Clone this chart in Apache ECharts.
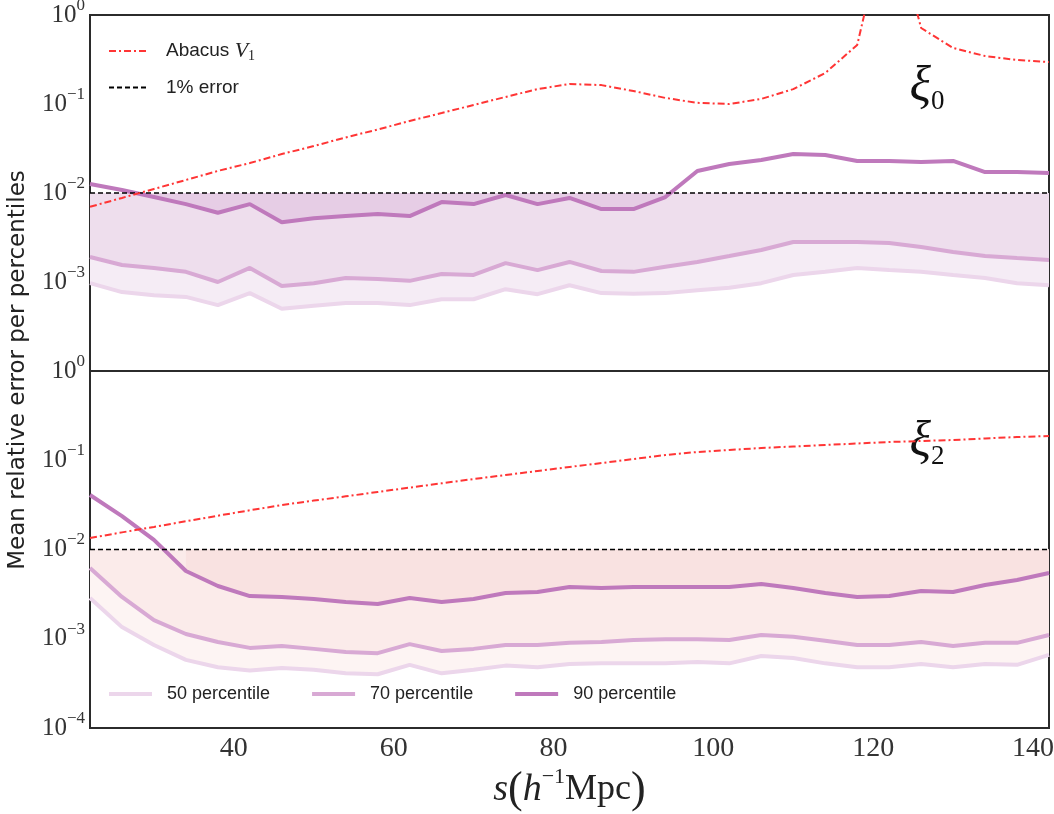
<!DOCTYPE html>
<html>
<head>
<meta charset="utf-8">
<script src="https://cdn.jsdelivr.net/npm/echarts@6/dist/echarts.min.js"></script>
<style>
  html, body { margin: 0; padding: 0; background: #fff; }
  #chart { width: 1054px; height: 814px; }
</style>
</head>
<body>
<div id="chart"></div>
<script>
// Separation bins s (h^-1 Mpc)
const s = [22, 26, 30, 34, 38, 42, 46, 50, 54, 58, 62, 66, 70, 74, 78, 82, 86, 90, 94,
           98, 102, 106, 110, 114, 118, 122, 126, 130, 134, 138, 142];

// Monopole xi_0: mean relative error per percentile
const xi0P50 = [0.00097, 0.00077, 0.00071, 0.00068, 0.00055, 0.00075, 0.00050, 0.00054, 0.00058, 0.00058, 0.00055,
                0.00064, 0.00064, 0.00083, 0.00073, 0.00092, 0.00075, 0.00074, 0.00075, 0.00081, 0.00086, 0.00097,
                0.00120, 0.00130, 0.00144, 0.00136, 0.00130, 0.00120, 0.00111, 0.00097, 0.00092];
const xi0P70 = [0.00191, 0.00155, 0.00144, 0.00130, 0.00100, 0.00144, 0.00090, 0.00097, 0.00111, 0.00108, 0.00103,
                0.00123, 0.00120, 0.00163, 0.00136, 0.00168, 0.00133, 0.00130, 0.00148, 0.00168, 0.00196, 0.00229,
                0.00281, 0.00281, 0.00281, 0.00274, 0.00247, 0.00217, 0.00196, 0.00186, 0.00177];
const xi0P90 = [0.0126, 0.0108, 0.0090, 0.0075, 0.0060, 0.0075, 0.0047, 0.0052, 0.0055, 0.0058, 0.0055,
                0.0079, 0.0075, 0.0095, 0.0075, 0.0088, 0.0066, 0.0066, 0.0090, 0.0177, 0.0212, 0.0235,
                0.0274, 0.0267, 0.0229, 0.0229, 0.0223, 0.0229, 0.0172, 0.0172, 0.0168];
const xi0Abacus = [0.0070, 0.0088, 0.0111, 0.0140, 0.0177, 0.0217, 0.0274, 0.0337, 0.0421, 0.0517, 0.0644,
                   0.0792, 0.0975, 0.120, 0.147, 0.168, 0.163, 0.140, 0.117, 0.103, 0.100, 0.114,
                   0.147, 0.223, 0.460, 16, 0.714, 0.426, 0.346, 0.312, 0.296];

// Quadrupole xi_2: mean relative error per percentile
const xi2P50 = [0.00286, 0.00135, 0.00085, 0.00058, 0.00048, 0.00044, 0.00047, 0.00045, 0.00041, 0.00040, 0.00051,
                0.00041, 0.00045, 0.00050, 0.00048, 0.00052, 0.00053, 0.00053, 0.00053, 0.00055, 0.00053, 0.00064,
                0.00061, 0.00053, 0.00048, 0.00048, 0.00052, 0.00048, 0.00052, 0.00051, 0.00066];
const xi2P70 = [0.00621, 0.00294, 0.00162, 0.00113, 0.00092, 0.00079, 0.00083, 0.00077, 0.00071, 0.00069, 0.00087,
                0.00073, 0.00077, 0.00085, 0.00085, 0.00090, 0.00092, 0.00097, 0.00099, 0.00099, 0.00097, 0.00110,
                0.00105, 0.00095, 0.00085, 0.00085, 0.00092, 0.00083, 0.00090, 0.00090, 0.00110];
const xi2P90 = [0.0408, 0.0237, 0.0128, 0.00574, 0.00390, 0.00301, 0.00294, 0.00279, 0.00258, 0.00245, 0.00286,
                0.00258, 0.00279, 0.00326, 0.00334, 0.00380, 0.00371, 0.00380, 0.00380, 0.00380, 0.00380, 0.00410,
                0.00371, 0.00326, 0.00294, 0.00301, 0.00343, 0.00334, 0.00400, 0.00455, 0.00546];
const xi2Abacus = [0.01345, 0.01555, 0.0179, 0.0207, 0.0239, 0.0275, 0.0315, 0.0353, 0.0394, 0.0441, 0.0494,
                   0.0552, 0.0616, 0.0684, 0.0758, 0.0840, 0.0931, 0.1033, 0.1145, 0.1237, 0.1302, 0.1372,
                   0.1426, 0.1482, 0.1541, 0.1601, 0.1643, 0.1686, 0.1753, 0.1822, 0.1870];

// 1% error reference level
const errorLevel = 0.01;

// Tick labels on the separation axis
const xTicks = [40, 60, 80, 100, 120, 140];

const percentileNames = ['50 percentile', '70 percentile', '90 percentile'];
const abacusName = 'Abacus V1';
const levelName = '1% error';

const lineColors = ['#ecd6eb', '#d8a9d4', '#bf79bc'];
const topFills = ['#f5ecf5', '#eedeed', '#e6cde5'];
const bottomFills = ['#fdf4f3', '#fbebea', '#f9e2e1'];
const redColor = '#ff3535';

const serif = '"Liberation Serif", "DejaVu Serif", serif';
const sans = '"DejaVu Sans", "Liberation Sans", sans-serif';
const legendFont = '"Liberation Sans", Arial, sans-serif';

const pairs = ys => s.map((x, i) => [x, ys[i]]);

// Shaded band between a percentile curve and the 1% level, only where the curve lies below it
function band(g, ys, color) {
  return {
    type: 'custom',
    xAxisIndex: g, yAxisIndex: g,
    silent: true, z: 1,
    data: [[s[0], errorLevel]],
    encode: { x: 0, y: 1 },
    renderItem: function (params, api) {
      const children = [];
      let run = [];
      const flush = function () {
        if (run.length > 1) {
          const upper = run.map(i => api.coord([s[i], ys[i]]));
          const lower = run.slice().reverse().map(i => api.coord([s[i], errorLevel]));
          children.push({ type: 'polygon', shape: { points: upper.concat(lower) }, style: { fill: color } });
        }
        run = [];
      };
      for (let i = 0; i < s.length; i++) {
        if (ys[i] < errorLevel) run.push(i); else flush();
      }
      flush();
      return { type: 'group', children: children };
    }
  };
}

function pctLine(g, k, ys) {
  return {
    type: 'line', name: percentileNames[k], xAxisIndex: g, yAxisIndex: g,
    data: pairs(ys), symbol: 'none', z: 3,
    lineStyle: { width: 4, color: lineColors[k] },
    itemStyle: { color: lineColors[k] }
  };
}

function levelLine(g) {
  return {
    type: 'line', name: levelName, xAxisIndex: g, yAxisIndex: g,
    data: [[s[0], errorLevel], [s[s.length - 1], errorLevel]],
    symbol: 'none', z: 4,
    lineStyle: { width: 1.7, color: '#000', type: [5, 3] },
    itemStyle: { color: '#000' }
  };
}

function abacusLine(g, ys) {
  return {
    type: 'line', name: abacusName, xAxisIndex: g, yAxisIndex: g,
    data: pairs(ys), symbol: 'none', z: 4, clip: true,
    lineStyle: { width: 2, color: redColor, type: [7, 3, 2, 3] },
    itemStyle: { color: redColor }
  };
}

const powRich = {
  b: { fontFamily: serif, fontSize: 25, lineHeight: 36, color: '#333' },
  u: { fontFamily: serif, fontSize: 17, lineHeight: 17, verticalAlign: 'top', color: '#333' }
};
function powLabel(hideBottom) {
  return function (v) {
    const e = Math.round(Math.log10(v));
    if (hideBottom && e === -4) return '';
    return '{b|10}{u|' + (e === 0 ? '0' : '\u2212' + (-e)) + '}';
  };
}

function yAxis(g) {
  return {
    type: 'log', logBase: 10, gridIndex: g, min: 1e-4, max: 1,
    axisLine: { show: false }, axisTick: { show: false },
    splitLine: { show: false }, minorTick: { show: false },
    axisLabel: { formatter: powLabel(g === 0), rich: powRich, margin: 5 }
  };
}

const xiRich = {
  a: { fontFamily: serif, fontStyle: 'italic', fontSize: 50, lineHeight: 54, fill: '#111' },
  b: { fontFamily: serif, fontSize: 27, lineHeight: 34, verticalAlign: 'bottom', fill: '#111' }
};

const chart = echarts.init(document.getElementById('chart'), null, { renderer: 'canvas' });

chart.setOption({
  animation: false,
  backgroundColor: '#fff',
  grid: [
    { left: 90, top: 15, width: 959, height: 356, outerBoundsMode: 'none', containLabel: false,
      show: true, borderColor: '#2b2b2b', borderWidth: 2, backgroundColor: 'transparent' },
    { left: 90, top: 371, width: 959, height: 357, outerBoundsMode: 'none', containLabel: false,
      show: true, borderColor: '#2b2b2b', borderWidth: 2, backgroundColor: 'transparent' }
  ],
  xAxis: [
    {
      type: 'value', gridIndex: 0, min: 22, max: 142,
      axisLine: { show: false }, axisTick: { show: false }, splitLine: { show: false },
      axisLabel: { show: false }
    },
    {
      type: 'value', gridIndex: 1, min: 22, max: 142,
      axisLine: { show: false }, axisTick: { show: false }, splitLine: { show: false },
      axisLabel: { customValues: xTicks, fontFamily: serif, fontSize: 28, color: '#333', margin: 7 },
      name: '{i|s}{p|(}{i|h}{u|\u22121}{n|Mpc}{p|)}',
      nameLocation: 'middle', nameGap: 38,
      nameTextStyle: {
        rich: {
          i: { fontFamily: serif, fontStyle: 'italic', fontSize: 38, lineHeight: 48, color: '#222' },
          n: { fontFamily: serif, fontSize: 36, lineHeight: 48, color: '#222' },
          p: { fontFamily: serif, fontSize: 44, lineHeight: 48, color: '#222' },
          u: { fontFamily: serif, fontSize: 22, lineHeight: 22, verticalAlign: 'top', color: '#222' }
        }
      }
    }
  ],
  yAxis: [yAxis(0), yAxis(1)],
  legend: [
    {
      data: [abacusName, levelName],
      orient: 'vertical', left: 103, top: 35,
      itemWidth: 37, itemHeight: 14, itemGap: 15,
      itemStyle: { opacity: 0 },
      lineStyle: { width: 2 },
      selectedMode: false,
      formatter: function (name) {
        return name === abacusName ? '{n|Abacus }{v|V}{d|1}' : '{n|' + name + '}';
      },
      textStyle: {
        padding: [0, 0, 0, 15],
        rich: {
          n: { fontFamily: legendFont, fontSize: 19, lineHeight: 24, color: '#222' },
          v: { fontFamily: serif, fontStyle: 'italic', fontSize: 22, lineHeight: 24, color: '#222' },
          d: { fontFamily: serif, fontSize: 14, lineHeight: 14, verticalAlign: 'bottom', color: '#222' }
        }
      }
    },
    {
      data: percentileNames,
      orient: 'horizontal', left: 102, top: 680,
      itemWidth: 43, itemHeight: 14, itemGap: 40,
      itemStyle: { opacity: 0 },
      lineStyle: { width: 4 },
      selectedMode: false,
      textStyle: { fontFamily: legendFont, fontSize: 18, color: '#222', padding: [0, 0, 0, 10] }
    }
  ],
  graphic: [
    {
      type: 'text', x: 18, y: 370, rotation: Math.PI / 2,
      style: { text: 'Mean relative error per percentiles', fontFamily: sans, fontSize: 23,
               fill: '#222', align: 'center', verticalAlign: 'middle' }
    },
    {
      type: 'text', x: 927, y: 88,
      style: { text: '{a|\u03be}{b|0}', align: 'center', verticalAlign: 'middle', rich: xiRich }
    },
    {
      type: 'text', x: 927, y: 443,
      style: { text: '{a|\u03be}{b|2}', align: 'center', verticalAlign: 'middle', rich: xiRich }
    }
  ],
  series: [
    band(0, xi0P50, topFills[0]),
    band(0, xi0P70, topFills[1]),
    band(0, xi0P90, topFills[2]),
    pctLine(0, 0, xi0P50),
    pctLine(0, 1, xi0P70),
    pctLine(0, 2, xi0P90),
    levelLine(0),
    abacusLine(0, xi0Abacus),

    band(1, xi2P50, bottomFills[0]),
    band(1, xi2P70, bottomFills[1]),
    band(1, xi2P90, bottomFills[2]),
    pctLine(1, 0, xi2P50),
    pctLine(1, 1, xi2P70),
    pctLine(1, 2, xi2P90),
    levelLine(1),
    abacusLine(1, xi2Abacus)
  ]
});
</script>
</body>
</html>
